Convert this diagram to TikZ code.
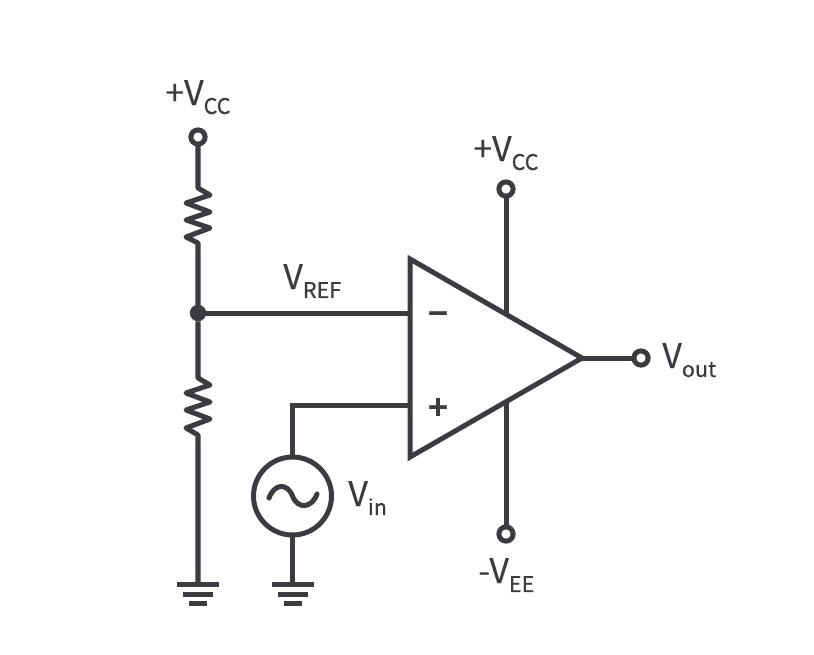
\documentclass[tikz,border=0pt]{standalone}
\usepackage{xcolor}
\usepackage{fontspec}
\setmainfont{Noto Sans CJK SC}[FakeBold=0.35,BoldFont={Noto Sans CJK SC Bold}]
\usetikzlibrary{calc}
\definecolor{wirecol}{HTML}{3A3C41}
\newcommand{\voltlabel}[2]{{\fontsize{19.3}{20}\selectfont #1}\raisebox{-5.1pt}{\fontsize{12.3}{13}\selectfont #2}}
\tikzset{
  wire/.style={line width=2.85pt,color=wirecol,line join=miter},
  zigzag/.style={wire,line join=round},
  terminal/.style={circle,draw=wirecol,fill=white,line width=2.85pt,minimum size=0.284cm,inner sep=0pt,outer sep=0pt},
  junction/.style={circle,fill=wirecol,minimum size=0.33cm,inner sep=0pt,outer sep=0pt},
  source/.style={circle,draw=wirecol,line width=2.85pt,minimum size=1.56cm,inner sep=0pt,outer sep=0pt},
  volt/.style={anchor=base west,inner sep=0pt,text=wirecol},
  sign/.style={anchor=base,inner sep=0pt,text=wirecol,font=\fontsize{19}{20}\selectfont\bfseries},
  gnd/.pic={
    \draw[wire] (-21,0) -- (21,0);
    \draw[wire] (-15,10) -- (15,10);
    \draw[wire] (-9,19.5) -- (9,19.5);
  }
}

\begin{document}
\begin{tikzpicture}[x=0.02cm,y=-0.02cm]
      \useasboundingbox (0,0) rectangle (814,654);
      % divider
      \coordinate (rtopA) at (198,188);
      \coordinate (rtopB) at (198,243);
      \coordinate (rbotA) at (198,378);
      \coordinate (rbotB) at (198,435);
      \coordinate (gndA) at (198,584);
      \node[terminal] (vccA) at (198,137) {};
      \node[junction] (vref) at (198,313) {};
      \draw[zigzag] (vccA) -- (rtopA) -- (210,195) -- (186,203) -- (210,212) -- (186,220)
         -- (210,228) -- (186,237) -- (rtopB) -- (vref);
      \draw[zigzag] (vref) -- (rbotA) -- (210,385) -- (186,393) -- (210,402) -- (186,410)
         -- (210,419) -- (186,428) -- (rbotB) -- (gndA);
      \pic at (gndA) {gnd};
      % op amp
      \coordinate (ampTop) at (410,259);
      \coordinate (ampBot) at (410,457);
      \coordinate (ampOut) at (582,358);
      \draw[wire] (ampTop) -- (ampOut) -- (ampBot) -- cycle;
      \coordinate (inMinus) at (410,313);
      \coordinate (inPlus) at (410,405);
      \coordinate (supTop) at (506,314);
      \coordinate (supBot) at (506,402);
      \node[sign] (minus) at (438,325.5) {\char"2212};
      \node[sign] (plus) at (438,419.5) {+};
      \draw[wire] (vref) -- (inMinus);
      % supplies and output
      \node[terminal] (vccB) at (506,189) {};
      \node[terminal] (vee) at (506,534) {};
      \node[terminal] (vout) at (641,358) {};
      \draw[wire] (vccB) -- (supTop);
      \draw[wire] (vee) -- (supBot);
      \draw[wire] (ampOut) -- (vout);
      % source
      \node[source] (src) at (292.5,496) {};
      \coordinate (gndB) at (292.5,584);
      \draw[wire] (src) -- (292.5,405) -- (inPlus);
      \draw[wire] (src) -- (gndB);
      \pic at (gndB) {gnd};
      \draw[wire,line cap=round] (269,498) .. controls (274,484) and (287,482) .. (292.5,496)
         .. controls (298,510) and (312,508) .. (317,494);
      % labels
      \node[volt] (lblVccA) at (165,105) {\voltlabel{+V}{CC}};
      \node[volt] (lblVccB) at (473,161) {\voltlabel{+V}{CC}};
      \node[volt] (lblVref) at (283,289) {\voltlabel{V}{REF}};
      \node[volt] (lblVin) at (348,506) {\voltlabel{V}{in}};
      \node[volt] (lblVout) at (662,368) {\voltlabel{V}{out}};
      \node[volt] (lblVee) at (478,583) {\voltlabel{-V}{EE}};
    \end{tikzpicture}
\end{document}
